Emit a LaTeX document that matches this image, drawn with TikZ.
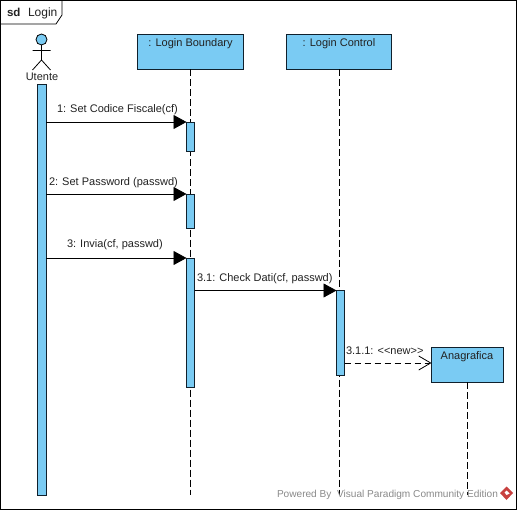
\documentclass[tikz,border=0pt]{standalone}
\usepackage{fontspec}
\setmainfont{Liberation Sans}
\usetikzlibrary{arrows.meta,calc}
\definecolor{vpblue}{HTML}{7ACBF3}
\definecolor{vpink}{HTML}{10202C}
\definecolor{vptext}{HTML}{222222}
\definecolor{vpwater}{HTML}{8A8A8A}
\definecolor{vpred}{HTML}{C8403F}
\tikzset{
  x=1pt,y=-1pt,
  every node/.style={inner sep=0pt,outer sep=0pt,font=\fontsize{11}{12}\selectfont,text=vptext},
  objbox/.style={draw=vpink,line width=0.9pt,fill=vpblue,anchor=north west},
  actbar/.style={draw=vpink,line width=0.7pt,fill=vpblue,anchor=north west,minimum width=8pt},
  lifeline/.style={draw=black,line width=0.8pt,dash pattern=on 7pt off 3pt},
  syncmsg/.style={draw=black,line width=0.8pt,-{Triangle[length=13pt,width=14pt,fill=black]}},
  newmsg/.style={draw=black,line width=0.8pt,dash pattern=on 6pt off 4pt,-{Straight Barb[length=12pt,width=14pt,line width=0.8pt]}},
  msglabel/.style={anchor=base west},
  objlabel/.style={anchor=base},
}
\begin{document}
\begin{tikzpicture}
\useasboundingbox (0,0) rectangle (518,510);
\fill[white] (0,0) rectangle (518,510);
% frame
\draw[black,line width=1pt] (0.5,0.5) rectangle (516.5,509);
\draw[black,line width=0.8pt] (0.5,24) -- (56,24) -- (62,15) -- (62,0.5);
\node[anchor=base west,font=\fontsize{11.5}{12}\selectfont\bfseries] (sd) at (7,17) {sd};
\node[anchor=base west,font=\fontsize{12}{12}\selectfont] (frametitle) at (28,17) {Login};
% lifelines
\coordinate (e2) at (190,495);
\coordinate (e3) at (339,495);
\coordinate (e4) at (467,495);
\node[objbox,minimum width=106pt,minimum height=35pt] (boundary) at (137.5,34.5) {};
\node[objbox,minimum width=105pt,minimum height=35pt] (control) at (286.5,34.5) {};
\node[objbox,minimum width=72pt,minimum height=35pt] (anagrafica) at (431.5,347) {};
\draw[lifeline] (boundary.south -| e2) -- (e2);
\draw[lifeline] (control.south -| e3) -- (e3);
\draw[lifeline] (anagrafica.south -| e4) -- (e4);
\node[objlabel] (lb) at (190.5,47) {: Login Boundary};
\node[objlabel] (lc) at (339,47) {: Login Control};
\node[objlabel] (la) at (467,359) {Anagrafica};
% actor
\draw[black,line width=0.8pt,fill=vpblue] (41.5,39.5) circle (5.5);
\draw[black,line width=0.8pt] (41.5,45) -- (41.5,60) (32.5,50.5) -- (50.5,50.5) (32.5,70) -- (41.5,60) -- (50.5,70);
\node[objlabel] (utente) at (42,81) {Utente};
% activations
\node[actbar,minimum height=411pt,minimum width=8.5pt] (ubar) at (37.5,84.5) {};
\node[actbar,minimum height=29pt] (a1) at (186.5,122) {};
\node[actbar,minimum height=34pt] (a2) at (186.5,194) {};
\node[actbar,minimum height=129pt] (a3) at (186.5,258) {};
\node[actbar,minimum height=85pt] (a4) at (336.5,290.5) {};
% messages
\draw[syncmsg] (ubar.east |- a1.north) -- (a1.north west);
\draw[syncmsg] (ubar.east |- a2.north) -- (a2.north west);
\draw[syncmsg] (ubar.east |- a3.north) -- (a3.north west);
\draw[syncmsg] (a3.east |- a4.north) -- (a4.north west);
\coordinate (newy) at (0,363);
\draw[newmsg] (a4.east |- newy) -- (anagrafica.west |- newy);
\node[msglabel] (m1) at (57,113) {1: Set Codice Fiscale(cf)};
\node[msglabel] (m2) at (49,186) {2: Set Password (passwd)};
\node[msglabel] (m3) at (67,247) {3: Invia(cf, passwd)};
\node[msglabel] (m4) at (197,281) {3.1: Check Dati(cf, passwd)};
\node[msglabel] (m5) at (346,354) {3.1.1: <{}<new>{}>};
% watermark
\node[anchor=base west,text=vpwater,font=\fontsize{10.1}{12}\selectfont] (wm) at (277,497) {Powered By\ \ Visual Paradigm Community Edition};
\fill[vpred] (506.5,486.5) -- (513,493) -- (506.5,500) -- (500,493) -- cycle;
\fill[white] (506.5,490.5) -- (509.5,493.5) -- (506.5,495) -- (504.5,492.5) -- cycle;
\end{tikzpicture}
\end{document}
